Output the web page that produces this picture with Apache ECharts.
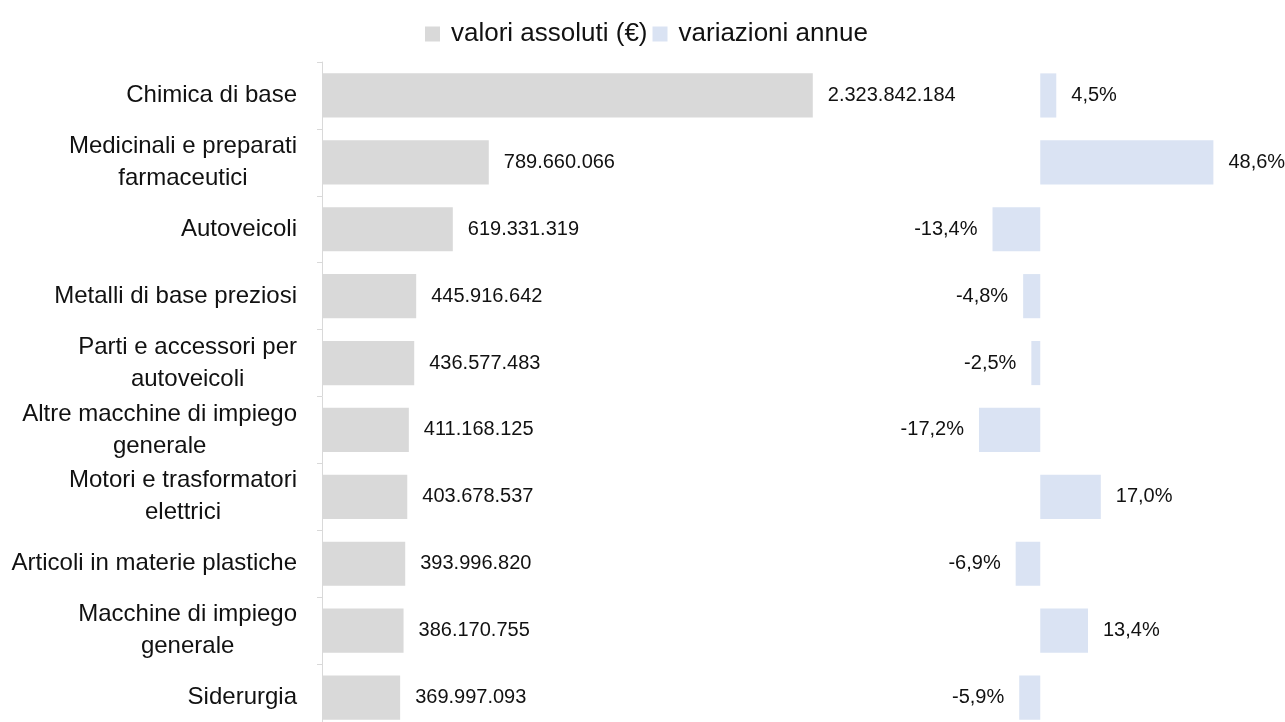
<!DOCTYPE html>
<html>
<head>
<meta charset="utf-8">
<script src="https://cdn.jsdelivr.net/npm/echarts@6/dist/echarts.min.js"></script>
<style>
  html, body { margin: 0; padding: 0; background: #fff; overflow: hidden; }
  #main { width: 1285px; height: 740px; }
</style>
</head>
<body>
<div id="main"></div>
<script>
var categories = [
  'Chimica di base',
  'Medicinali e preparati\nfarmaceutici',
  'Autoveicoli',
  'Metalli di base preziosi',
  'Parti e accessori per\nautoveicoli',
  'Altre macchine di impiego\ngenerale',
  'Motori e trasformatori\nelettrici',
  'Articoli in materie plastiche',
  'Macchine di impiego\ngenerale',
  'Siderurgia'
];
var valoriAssoluti = [2323842184, 789660066, 619331319, 445916642, 436577483, 411168125, 403678537, 393996820, 386170755, 369997093];
var variazioniAnnue = [4.5, 48.6, -13.4, -4.8, -2.5, -17.2, 17.0, -6.9, 13.4, -5.9];

(function(){
  var chartDom = document.getElementById('main');
  var myChart = echarts.init(chartDom);
  var font = '"Liberation Sans", Arial, sans-serif';

  function migliaia(v) {
    return String(v).replace(/\B(?=(\d{3})+(?!\d))/g, '.');
  }
  function percento(v) {
    return v.toFixed(1).replace('.', ',') + '%';
  }

  var option = {
    animation: false,
    legend: {
      top: 16,
      left: 420,
      itemWidth: 15,
      itemHeight: 15,
      itemGap: 5,
      icon: 'rect',
      textStyle: { fontFamily: font, fontSize: 26, color: '#111', padding: [0, 0, 0, 6] },
      data: ['valori assoluti (€)', 'variazioni annue']
    },
    grid: [
      { left: 322, top: 62, width: 528, height: 669 },
      { left: 969, top: 62, width: 285, height: 669 }
    ],
    xAxis: [
      { gridIndex: 0, type: 'value', min: 0, max: 2500000000, show: false },
      { gridIndex: 1, type: 'value', min: -20, max: 60, show: false }
    ],
    yAxis: [
      {
        gridIndex: 0,
        type: 'category',
        inverse: true,
        data: categories,
        axisLine: { show: true, lineStyle: { color: '#d9d9d9', width: 1 } },
        axisTick: { show: true, length: 5, lineStyle: { color: '#d9d9d9' } },
        axisLabel: {
          margin: 25,
          fontFamily: font,
          fontSize: 24,
          lineHeight: 32,
          color: '#111',
          formatter: function (v) {
            return v.split('\n').map(function (s) { return '{c|' + s + '}'; }).join('\n');
          },
          rich: {
            c: { align: 'center', fontFamily: font, fontSize: 24, lineHeight: 32, color: '#111' }
          }
        }
      },
      { gridIndex: 1, type: 'category', inverse: true, data: categories, show: false }
    ],
    series: [
      {
        name: 'valori assoluti (€)',
        type: 'bar',
        xAxisIndex: 0,
        yAxisIndex: 0,
        barWidth: '66%',
        itemStyle: { color: '#d9d9d9' },
        label: {
          show: true,
          position: 'right',
          distance: 15,
          fontFamily: font,
          fontSize: 20,
          color: '#111',
          formatter: function (p) { return migliaia(p.value); }
        },
        data: valoriAssoluti
      },
      {
        name: 'variazioni annue',
        type: 'bar',
        xAxisIndex: 1,
        yAxisIndex: 1,
        barWidth: '66%',
        itemStyle: { color: '#dae3f3' },
        label: {
          show: true,
          position: 'right',
          distance: 15,
          fontFamily: font,
          fontSize: 20,
          color: '#111',
          formatter: function (p) { return percento(p.value); }
        },
        data: variazioniAnnue.map(function (v) {
          return v < 0 ? { value: v, label: { position: 'left' } } : v;
        })
      }
    ]
  };

  option && myChart.setOption(option);
})();
</script>
</body>
</html>
